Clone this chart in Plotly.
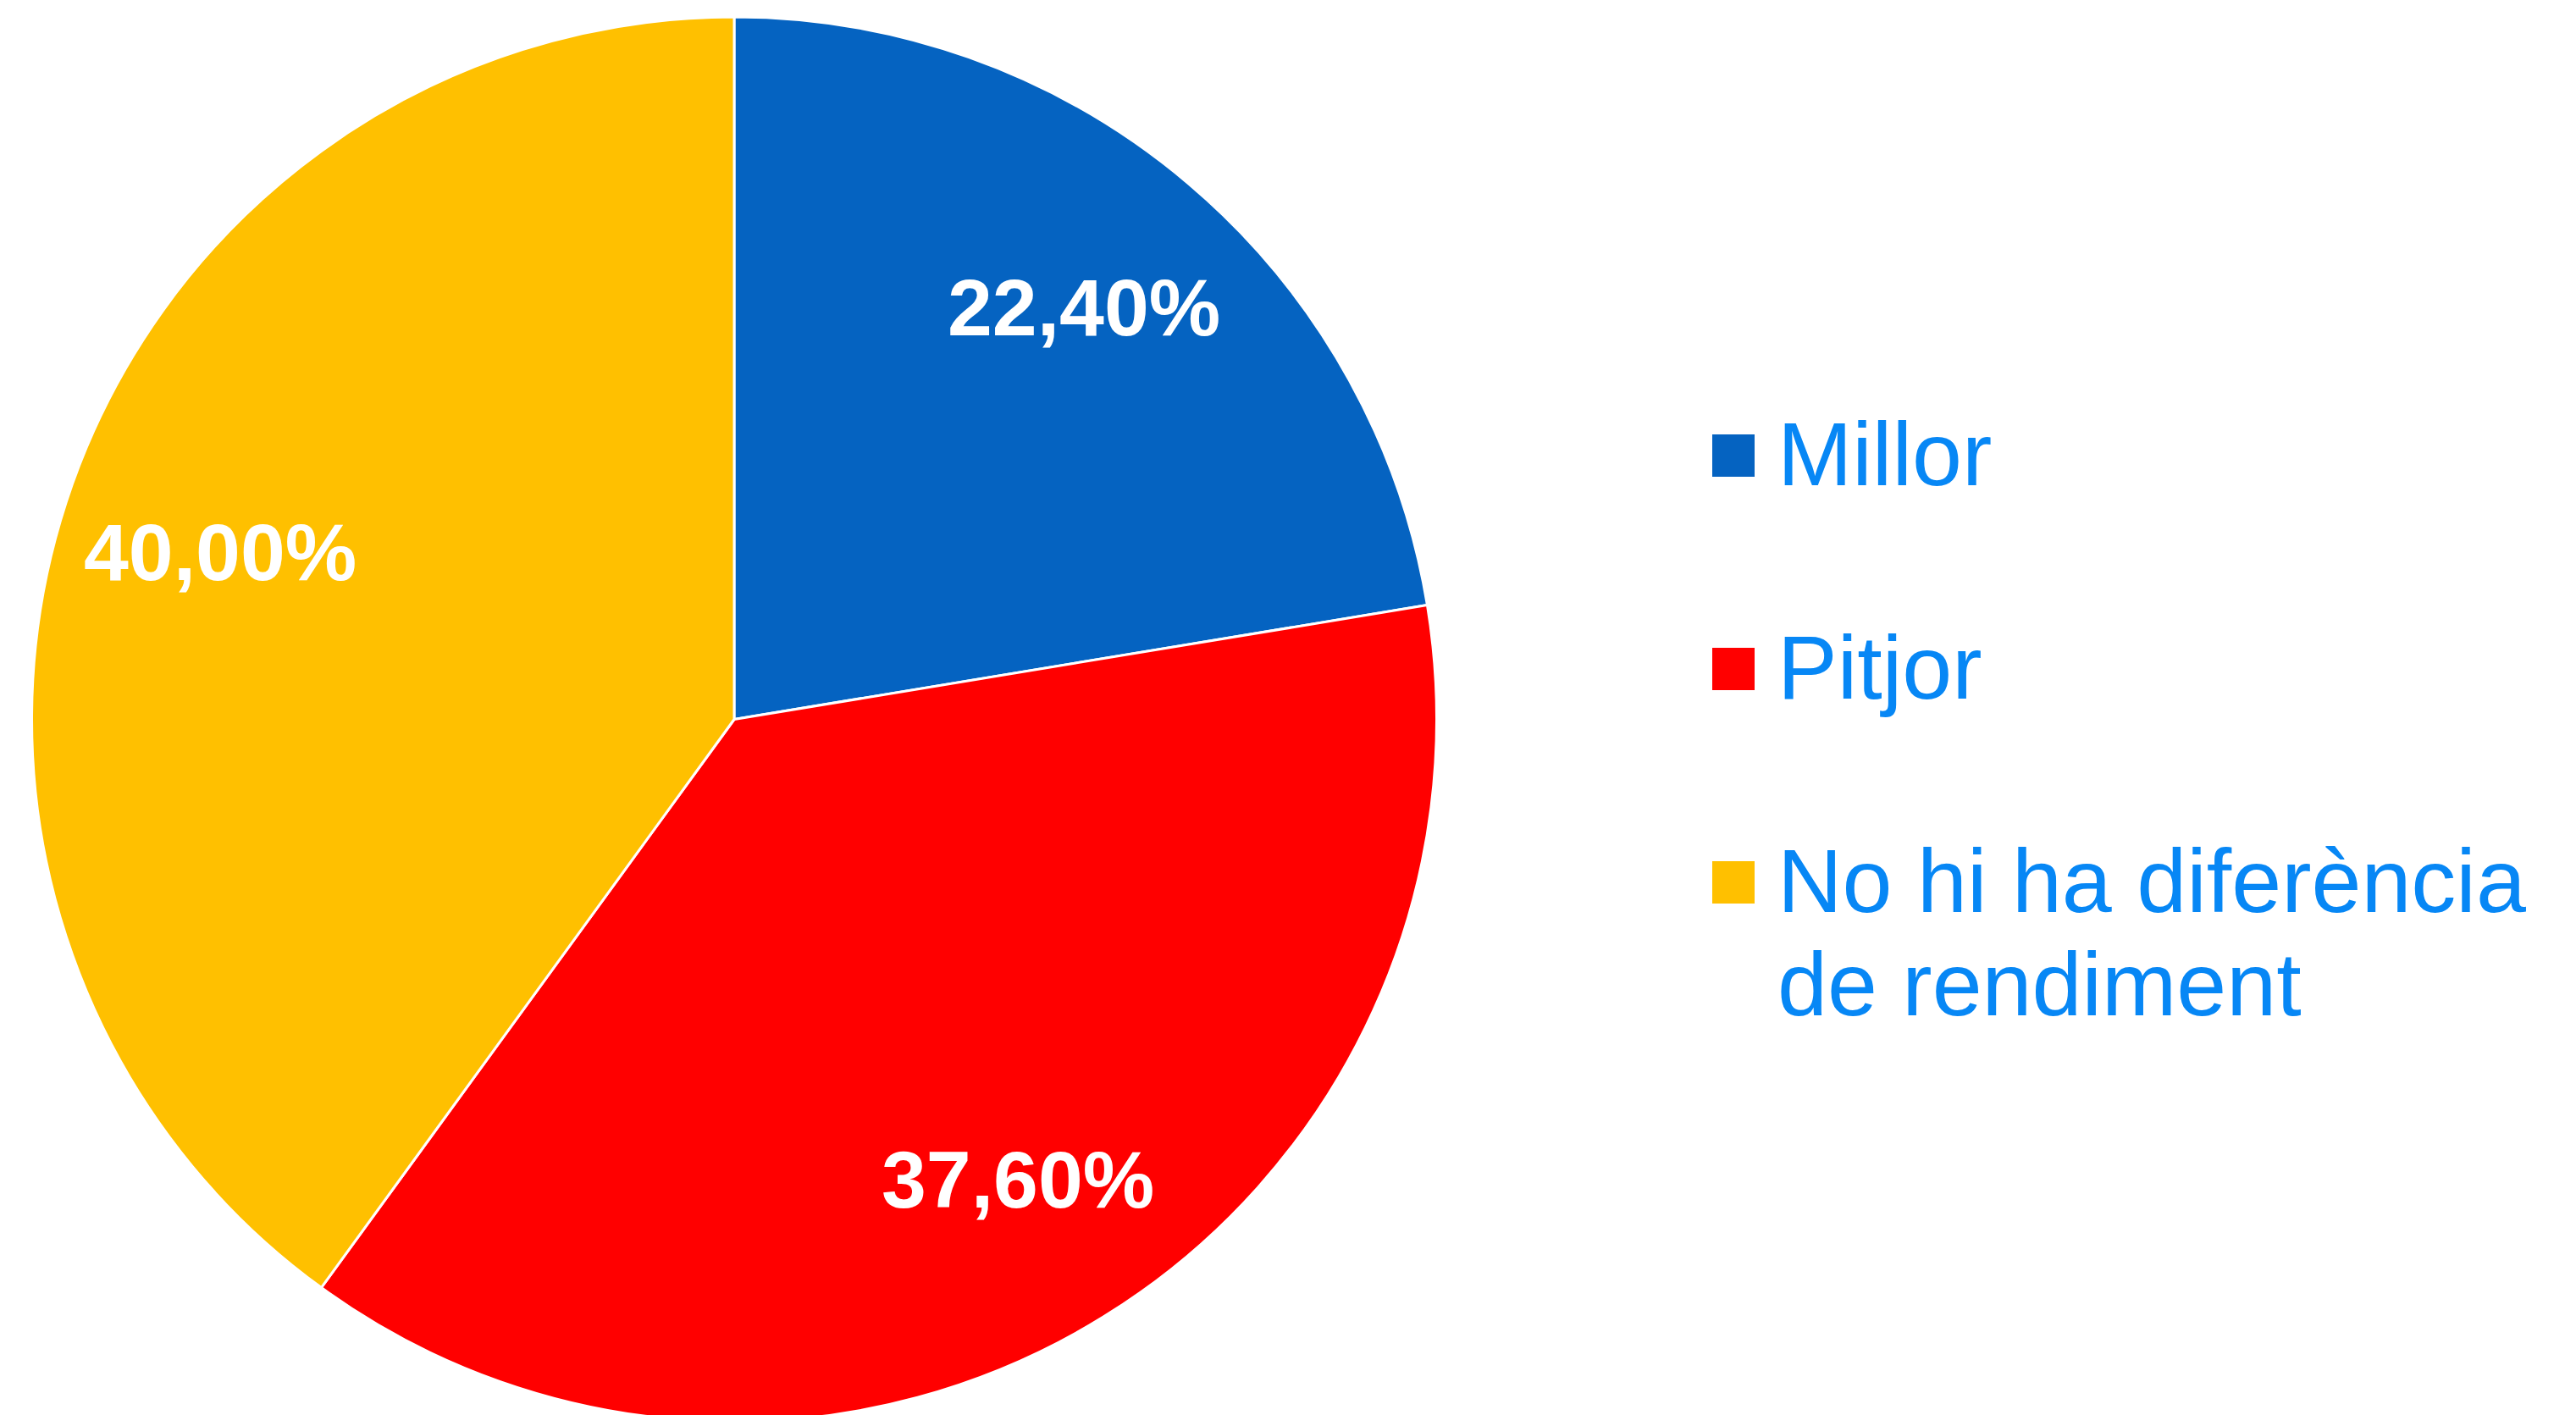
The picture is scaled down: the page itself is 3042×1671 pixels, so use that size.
import math
import plotly.graph_objects as go

# ---- data ----
categories = ["Millor", "Pitjor", "No hi ha diferència de rendiment"]
legend_lines = [["Millor"], ["Pitjor"], ["No hi ha diferència", "de rendiment"]]
values = [22.40, 37.60, 40.00]
colors = ["#0563C1", "#FF0000", "#FFC000"]

W, H = 3042, 1671
TOP = 12          # pie top (px, figure coords)
PIE_CX = 859      # pie centre x (px)
LEGEND_COLOR = "#0787F5"
LEG_FONT = 106
LABEL_FONT = 95
LABEL_R = 0.77    # label distance as fraction of radius

fig = go.Figure()
fig.add_trace(go.Pie(
    labels=categories,
    values=values,
    sort=False,
    direction="clockwise",
    rotation=0,
    marker=dict(colors=colors, line=dict(color="white", width=3)),
    textinfo="none",
    hoverinfo="skip",
    showlegend=False,
    domain=dict(x=[0, 2 * PIE_CX / W], y=[0, 1 - TOP / H]),
))

annotations = []
shapes = []

# ---- data labels placed along each slice's bisector ----
radius = (H - TOP) / 2
cy_pie = TOP + radius
total = sum(values)
cum = 0.0
for v in values:
    mid = (cum + v / 2) / total * 2 * math.pi
    cum += v
    px = PIE_CX + LABEL_R * radius * math.sin(mid)
    py = cy_pie - LABEL_R * radius * math.cos(mid)
    annotations.append(dict(
        xref="paper", yref="paper", x=px / W, y=1 - py / H,
        xanchor="center", yanchor="middle", showarrow=False,
        text=f"{v:.2f}%".replace(".", ","),
        font=dict(family="Liberation Sans, Arial", size=LABEL_FONT,
                  color="white", weight="bold"),
    ))

# ---- manual legend (big swatches like the original) ----
sq = 50
sq_x0 = 2014
text_x = 2089
first_baseline = 565
item_gap = 252
line_gap = 122
ascent_off = 0.3465 * LEG_FONT

for i, (lines, col) in enumerate(zip(legend_lines, colors)):
    base = first_baseline + i * item_gap
    cy = base - 35
    shapes.append(dict(type="rect", xref="paper", yref="paper",
                       x0=sq_x0 / W, x1=(sq_x0 + sq) / W,
                       y0=1 - (cy + sq / 2) / H, y1=1 - (cy - sq / 2) / H,
                       fillcolor=col, line=dict(width=0)))
    for j, ln in enumerate(lines):
        b = base + j * line_gap
        annotations.append(dict(xref="paper", yref="paper",
                                x=text_x / W, y=1 - (b - ascent_off) / H,
                                xanchor="left", yanchor="middle",
                                text=ln, showarrow=False,
                                font=dict(family="Liberation Sans, Arial", size=LEG_FONT,
                                          color=LEGEND_COLOR)))

fig.update_layout(
    width=W, height=H,
    margin=dict(l=0, r=0, t=0, b=0),
    paper_bgcolor="white",
    plot_bgcolor="white",
    shapes=shapes,
    annotations=annotations,
    showlegend=False,
)

fig.write_html("out.html")
